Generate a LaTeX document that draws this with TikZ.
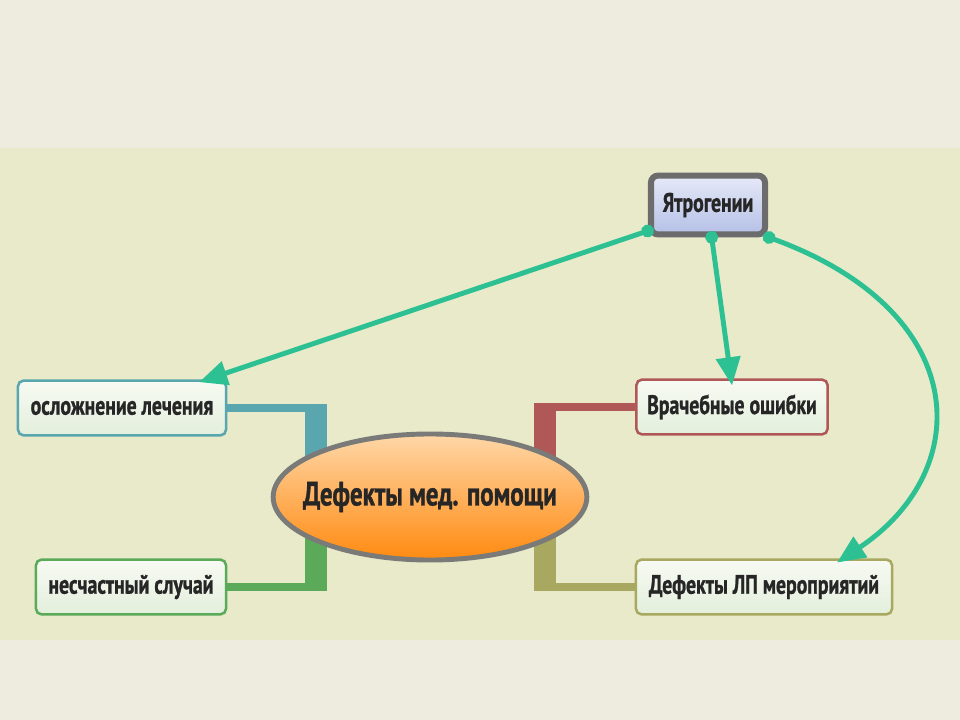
\documentclass[tikz,border=0pt]{standalone}
\usepackage{fontspec}
\newfontfamily\mapfont[FakeStretch=0.74, FakeBold=1]{PT Sans}
\usetikzlibrary{arrows.meta,shapes.geometric}

\definecolor{pagebg}{HTML}{EEECDF}
\definecolor{bandbg}{HTML}{E8EAC9}
\definecolor{txt}{HTML}{262626}
\definecolor{boxtop}{HTML}{F7FAF3}
\definecolor{boxbot}{HTML}{E3EFDC}
\definecolor{tealc}{HTML}{5AA6AE}
\definecolor{greenc}{HTML}{5BAA5A}
\definecolor{redc}{HTML}{B05858}
\definecolor{olivec}{HTML}{A8A860}
\definecolor{linkc}{HTML}{2CC093}
\definecolor{graybd}{HTML}{6C6C6C}
\definecolor{jtop}{HTML}{E6E9F7}
\definecolor{jbot}{HTML}{B4C0E6}
\definecolor{ellbd}{HTML}{7A7A78}
\definecolor{elltop}{HTML}{FFD7A8}
\definecolor{ellmid}{HTML}{FFA94E}
\definecolor{ellbot}{HTML}{FF8A10}

\begin{document}
\begin{tikzpicture}[x=0.025cm,y=-0.025cm,
	every node/.style={font=\mapfont\bfseries\fontsize{19}{22}\selectfont, text=txt},
	topic/.style={draw=#1, line width=1.8pt, rounded corners=4pt, top color=boxtop, bottom color=boxbot, minimum height=1.37cm, inner sep=0pt},
	branch/.style={draw=#1, line width=5.7pt},
	stem/.style={draw=#1, line width=16pt},
	link/.style={draw=linkc, line width=3.5pt, {Circle[length=9pt]}-{Triangle[length=20pt,width=17pt]}}]

	% background
	\useasboundingbox (0,0) rectangle (960,720);
	\fill[pagebg] (0,0) rectangle (960,720);
	\fill[bandbg] (0,148) rectangle (960,640);

	% topics
	\node[topic=tealc, minimum width=5.2cm] (osl) at (122,408) {осложнение лечения};
	\node[topic=greenc, minimum width=4.75cm] (nes) at (131,587) {несчастный случай};
	\node[topic=redc, minimum width=4.78cm] (vrach) at (732,407) {Врачебные ошибки};
	\node[topic=olivec, minimum width=6.4cm] (lp) at (764,587) {Дефекты ЛП мероприятий};
	\node[draw=graybd, line width=4.3pt, rounded corners=5pt, top color=jtop, bottom color=jbot, minimum width=2.85cm, minimum height=1.47cm, inner sep=0pt] (jat) at (708,205) {Ятрогении};

	% branches
	\coordinate (jOsl) at (316,470);
	\coordinate (jNes) at (316,530);
	\coordinate (jVr) at (545,470);
	\coordinate (jLp) at (545,530);
	\draw[branch=tealc] (osl.east) -| (jOsl);
	\draw[stem=tealc] (jOsl) -- ++(0,-66);
	\draw[branch=greenc] (nes.east) -| (jNes);
	\draw[stem=greenc] (jNes) -- ++(0,61);
	\draw[branch=redc] (vrach.west) -| (jVr);
	\draw[stem=redc] (jVr) -- ++(0,-67);
	\draw[branch=olivec] (lp.west) -| (jLp);
	\draw[stem=olivec] (jLp) -- ++(0,61);

	\node[ellipse, draw=ellbd, line width=3.5pt, top color=elltop, middle color=ellmid, bottom color=ellbot, minimum height=3.15cm, inner xsep=-0.4cm, inner ysep=0pt, font=\mapfont\bfseries\fontsize{24}{28}\selectfont] (def) at (430,497) {Дефекты мед. помощи};

	% links
	\path[link] ([xshift=4pt,yshift=6pt]jat.south west) -- ([xshift=-20pt,yshift=-2pt]osl.north east);
	\path[link] ([xshift=2pt,yshift=4.5pt]jat.south) -- ([yshift=-5pt]vrach.north);
	\path[link] ([xshift=-3.5pt,yshift=1.5pt]jat.south east) .. controls +(209,76) and +(139,-93) .. ([xshift=-40pt,yshift=-3pt]lp.north east);
\end{tikzpicture}
\end{document}
